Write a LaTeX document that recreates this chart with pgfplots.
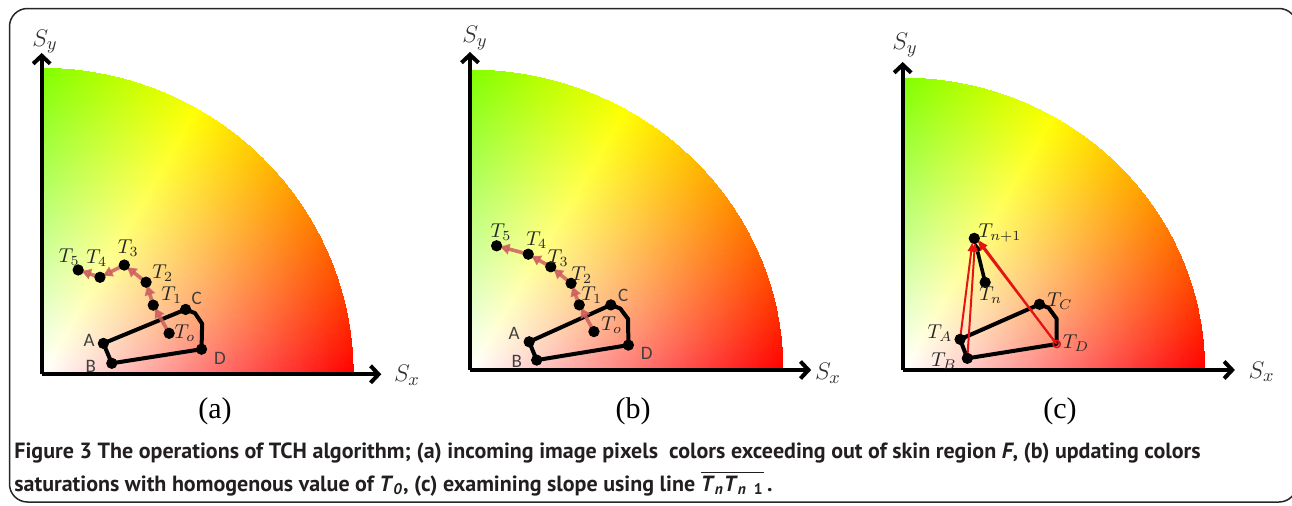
\documentclass[border=0pt]{standalone}
\usepackage{pgfplots}
\pgfplotsset{compat=1.18}
\usepackage{fontspec}
\setmainfont{Liberation Serif}
\newfontfamily\capfont{PT Sans}
\newfontfamily\lblfont{Carlito}
\usetikzlibrary{arrows.meta}
\definecolor{arrowred}{RGB}{205,95,95}
\definecolor{capgray}{RGB}{35,31,32}
\definecolor{cred}{RGB}{228,20,20}

\pgfplotsset{
  panel/.style={
    view={0}{90},
    scale only axis,
    xmin=0, ymin=0, zmin=-1, zmax=1,
    axis x line*=bottom, axis y line*=left, axis z line=none,
    axis line style={line width=2pt, -{Straight Barb[length=4pt,width=8.5pt]}},
    xtick=\empty, ytick=\empty, ztick=\empty,
    clip=false,
    anchor=origin,
  },
  bg/.style={surf, shader=interp, draw=none, domain=0.001:1, y domain=0:89.95, samples=14, samples y=31,
    mesh/color input=explicit mathparse,
    point meta={symbolic={1-sqrt(x^2+y^2)*(atan(y/x)>60 ? (atan(y/x)-60)/60 : 0),1-sqrt(x^2+y^2)*(atan(y/x)<60 ? (60-atan(y/x))/60 : 0),1-sqrt(x^2+y^2)}}},
  poly/.style={black, line width=2pt, line join=round, line cap=round},
  dots/.style={only marks, mark=*, mark size=2.6pt, black},
  tarr/.style={arrowred, opacity=0.85, line width=1.8pt, -{Latex[length=5.5pt,width=6pt]}, shorten >=1pt},
  carr/.style={cred, line width=1pt, -{Latex[length=5pt,width=4pt]}, shorten >=1pt},
}
\newcommand{\tlab}[1]{{\fontsize{9.6}{11}\selectfont\color{black!85}$#1$}}
\newcommand{\plab}[1]{{\lblfont\fontsize{9.5}{11}\selectfont\color{black!75}#1}}
\newcommand{\slab}[1]{{\fontsize{12.5}{14}\selectfont\color{black!80}$#1$}}
\newcommand{\sublab}[1]{{\fontsize{15}{17}\selectfont #1}}

\begin{document}
\begin{tikzpicture}[x=0.5pt,y=0.5pt]
\useasboundingbox (0,0) rectangle (1292,505);
\draw[line width=0.75pt, black!85, rounded corners=9pt] (9.5,496.5) rectangle (1297,3);

% ---------- panel (a)
\begin{axis}[panel, at={(20.85pt,65.35pt)}, xmax=1.09, ymax=1.05, width=169.8pt, height=160.65pt]
\addplot3[bg] ({x*cos(y)},{x*sin(y)},0);
\addplot[poly] coordinates {(0.198,0.101)(0.462,0.212)(0.492,0.200)(0.515,0.165)(0.513,0.082)(0.225,0.036)(0.198,0.101)};
\addplot[dots] coordinates {(0.198,0.101)(0.225,0.036)(0.462,0.212)(0.513,0.082)(0.409,0.134)(0.358,0.226)(0.335,0.301)(0.265,0.357)(0.187,0.317)(0.117,0.341)};
\addplot[tarr] coordinates {(0.409,0.134)(0.358,0.226)};
\addplot[tarr] coordinates {(0.358,0.226)(0.335,0.301)};
\addplot[tarr] coordinates {(0.335,0.301)(0.265,0.357)};
\addplot[tarr] coordinates {(0.265,0.357)(0.187,0.317)};
\addplot[tarr] coordinates {(0.187,0.317)(0.117,0.341)};
\end{axis}
\node at (89,165) {\plab{A}};
\node at (90.7,138.3) {\plab{B}};
\node at (196.7,206.7) {\plab{C}};
\node at (220,147) {\plab{D}};
\node at (185,171.7) {\tlab{T_o}};
\node at (171.7,210) {\tlab{T_1}};
\node at (162.7,231.7) {\tlab{T_2}};
\node at (128.3,256.7) {\tlab{T_3}};
\node at (96.7,246.7) {\tlab{T_4}};
\node at (69.3,248.3) {\tlab{T_5}};
\node at (45,463.3) {\slab{S_y}};
\node at (407,130) {\slab{S_x}};
\node at (215,94) {\sublab{(a)}};

% ---------- panel (b)
\begin{axis}[panel, at={(235pt,67.5pt)}, xmax=1.09, ymax=1.06, width=170.6pt, height=159pt]
\addplot3[bg] ({x*cos(y)},{x*sin(y)},0);
\addplot[poly] coordinates {(0.189,0.094)(0.450,0.217)(0.480,0.205)(0.505,0.170)(0.506,0.083)(0.213,0.033)(0.189,0.094)};
\addplot[dots] coordinates {(0.189,0.094)(0.213,0.033)(0.450,0.217)(0.506,0.083)(0.396,0.128)(0.349,0.217)(0.323,0.289)(0.258,0.344)(0.186,0.386)(0.085,0.414)};
\addplot[tarr] coordinates {(0.396,0.128)(0.349,0.217)};
\addplot[tarr] coordinates {(0.349,0.217)(0.323,0.289)};
\addplot[tarr] coordinates {(0.323,0.289)(0.258,0.344)};
\addplot[tarr] coordinates {(0.258,0.344)(0.186,0.386)};
\addplot[tarr] coordinates {(0.186,0.386)(0.085,0.414)};
\end{axis}
\node at (514,171.7) {\plab{A}};
\node at (516.7,143.3) {\plab{B}};
\node at (623.3,210) {\plab{C}};
\node at (646.7,151.7) {\plab{D}};
\node at (611.7,180) {\tlab{T_o}};
\node at (591.7,210) {\tlab{T_1}};
\node at (581.7,230) {\tlab{T_2}};
\node at (558.3,246.7) {\tlab{T_3}};
\node at (536.7,265) {\tlab{T_4}};
\node at (501,273.3) {\tlab{T_5}};
\node at (475,466.7) {\slab{S_y}};
\node at (828,132) {\slab{S_x}};
\node at (633,94) {\sublab{(b)}};

% ---------- panel (c)
\begin{axis}[panel, at={(451.35pt,67.5pt)}, xmax=1.10, ymax=1.055, width=166.1pt, height=154pt]
\addplot3[bg] ({x*cos(y)},{x*sin(y)},0);
\addplot[poly] coordinates {(0.190,0.105)(0.453,0.225)(0.483,0.213)(0.510,0.175)(0.510,0.089)(0.214,0.040)(0.190,0.105)};
\addplot[black, line width=1.8pt, -{Latex[length=5pt,width=5pt]}] coordinates {(0.273,0.300)(0.240,0.440)};
\addplot[dots] coordinates {(0.190,0.105)(0.214,0.040)(0.453,0.225)(0.273,0.300)(0.237,0.451)};
\addplot[carr] coordinates {(0.190,0.105)(0.232,0.447)};
\addplot[carr] coordinates {(0.214,0.040)(0.240,0.446)};
\addplot[carr] coordinates {(0.510,0.089)(0.243,0.449)};
\addplot[carr] coordinates {(0.505,0.094)(0.247,0.452)};
\addplot[only marks, mark=o, mark size=1.8pt, cred, line width=0.8pt] coordinates {(0.510,0.089)};
\end{axis}
\node at (1000,271.7) {\tlab{T_{n+1}}};
\node at (990.7,210) {\tlab{T_n}};
\node at (1060,204) {\tlab{T_C}};
\node at (1076,162.3) {\tlab{T_D}};
\node at (940,171.7) {\tlab{T_A}};
\node at (944,144.3) {\tlab{T_B}};
\node at (905,460) {\slab{S_y}};
\node at (1261.7,133.3) {\slab{S_x}};
\node at (1060,94) {\sublab{(c)}};

% ---------- caption
\node[anchor=base west, inner sep=0pt, text=capgray] at (14,47) {\capfont\bfseries\fontsize{11}{13}\selectfont Figure 3 The operations of TCH algorithm; (a) incoming image pixels\ \ colors exceeding out of skin region \textit{F}, (b) updating colors};
\node[anchor=base west, inner sep=0pt, text=capgray] at (14,14) {\capfont\bfseries\fontsize{11}{13}\selectfont saturations with homogenous value of \textit{T}\textsubscript{\textit{0}}, (c) examining slope using line $\overline{\hbox{\textit{T}\textsubscript{\textit{n}}\textit{T}\textsubscript{\textit{n}\ \ 1}}}$\,.};
\end{tikzpicture}
\end{document}
